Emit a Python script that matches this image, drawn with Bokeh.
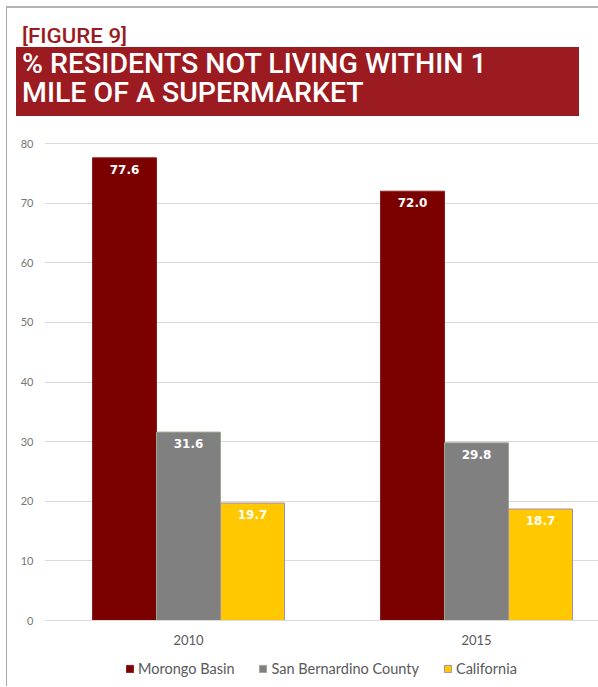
from bokeh.plotting import figure
from bokeh.models import Range1d, FixedTicker, ColumnDataSource, Legend, LegendItem, Div
from bokeh.layouts import column
from bokeh.embed import file_html
from bokeh.resources import INLINE
from bokeh.core.properties import value

years = ["2010", "2015"]
series = ["Morongo Basin", "San Bernardino County", "California"]
morongo = [77.6, 72.0]
san_bernardino = [31.6, 29.8]
california = [19.7, 18.7]
y_ticks = [0, 10, 20, 30, 40, 50, 60, 70, 80]

colors = ["#7B0000", "#808080", "#FFC800"]
outlines = ["#8E1E1E", "#9DAA8C", "#A48DB4"]

group_px = 288.0
frame_px = 554.0
bar_w = 64.0 / group_px
offsets = [-bar_w, 0.0, bar_w]
centers = [k + 0.5 for k in range(len(years))]

px_per_unit = 5.9625
frame_h = 544
y_top = 80.17

p = figure(frame_width=int(frame_px), frame_height=frame_h, x_range=Range1d(0, frame_px / group_px),
           y_range=Range1d(y_top - frame_h / px_per_unit, y_top), output_backend="svg",
           toolbar_location=None,
           min_border_left=37, min_border_right=0, min_border_top=17, min_border_bottom=0)

items = []
for vals, name, col, oc, off in zip([morongo, san_bernardino, california], series, colors, outlines, offsets):
    src = ColumnDataSource(dict(x=[c + off for c in centers], top=vals,
                                label=["%.1f" % v for v in vals]))
    r = p.vbar(x="x", top="top", bottom=0, width=bar_w, source=src, fill_color=col,
               line_color=oc, line_width=1)
    p.text(x="x", y="top", text="label", source=src, text_align="center", text_baseline="top",
           y_offset=7, text_color="white", text_font=value("DejaVu Sans"), text_font_style="bold",
           text_font_size="12px")
    items.append(LegendItem(label=name, renderers=[r]))

legend = Legend(items=items, orientation="horizontal", location="bottom_center", border_line_color=None,
                background_fill_alpha=0, glyph_width=9, glyph_height=9, label_height=14,
                label_standoff=4, spacing=24, padding=0, margin=9,
                label_text_font="Lato", label_text_font_size="14.5px", label_text_color="#595959")
p.add_layout(legend)

p.xaxis.fixed_location = 0
p.xaxis.ticker = FixedTicker(ticks=centers)
p.xaxis.major_label_overrides = {c: y for c, y in zip(centers, years)}
p.xaxis.axis_line_color = "#D9D9D9"
p.xaxis.major_tick_line_color = None
p.xaxis.minor_tick_line_color = None
p.xaxis.major_label_standoff = 8
p.xaxis.major_label_text_font = "Lato"
p.xaxis.major_label_text_font_size = "13px"
p.xaxis.major_label_text_color = "#595959"

p.yaxis.ticker = FixedTicker(ticks=y_ticks)
p.yaxis.axis_line_color = None
p.yaxis.major_tick_line_color = None
p.yaxis.minor_tick_line_color = None
p.yaxis.major_label_standoff = 5
p.yaxis.major_label_text_font = "Lato"
p.yaxis.major_label_text_font_size = "11px"
p.yaxis.major_label_text_color = "#767676"

p.xgrid.visible = False
p.ygrid.grid_line_color = "#D9D9D9"
p.outline_line_color = None

header_html = """
<div style="position:relative;width:591px;height:117px;">
  <div style="position:absolute;left:15px;top:18px;color:#9B1C20;font-family:Roboto;font-weight:500;
       font-size:21px;line-height:21px;white-space:nowrap;transform:scaleX(1.06);transform-origin:left top;">[FIGURE 9]</div>
  <div style="position:absolute;left:9px;top:39px;width:563px;height:69px;background:#9B1B20;"></div>
  <div style="position:absolute;left:15px;top:42px;color:#FFFFFF;font-family:Roboto;font-weight:500;
       font-size:27px;line-height:29px;white-space:nowrap;transform:scaleX(1.055);transform-origin:left top;">
       % RESIDENTS NOT LIVING WITHIN 1<br>MILE OF A SUPERMARKET</div>
</div>
"""
header = Div(text=header_html, width=591, height=117, margin=0)

layout = column(header, p, spacing=0, margin=(6, 0, 0, 6),
                styles={"border-left": "1px solid #A6A6A6", "border-top": "2px solid #B4B4B4"})

open("out.html", "w").write(file_html(layout, INLINE))
